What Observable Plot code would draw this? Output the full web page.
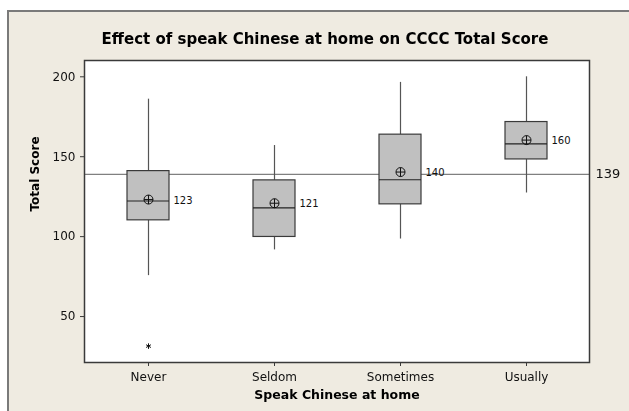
<!DOCTYPE html>
<html>
<head>
<meta charset="utf-8">
<script src="https://cdn.jsdelivr.net/npm/d3@7"></script>
<script src="https://cdn.jsdelivr.net/npm/@observablehq/plot@0.6"></script>
<style>
  html, body { margin: 0; padding: 0; background: white; overflow: hidden; width: 629px; height: 411px; }
  #bg { position: fixed; left: 7px; top: 10px; right: 0; bottom: 0; box-sizing: border-box;
        border-left: 2px solid #7a7a7a; border-top: 2px solid #7a7a7a; background: #efebe1; }
  #chart { position: absolute; left: 0; top: 0; }
</style>
</head>
<body>
<div id="bg"></div>
<div id="chart"></div>
<script>
const categories = ["Never", "Seldom", "Sometimes", "Usually"];
const whiskerLow = [75.6, 91.7, 98.5, 127.3];
const q1 = [110.2, 99.8, 120.2, 148.3];
const median = [122.3, 118.0, 135.6, 158.0];
const q3 = [141.0, 135.2, 163.8, 171.7];
const whiskerHigh = [186.0, 157.0, 196.5, 200.0];
const means = [123.2, 120.9, 140.4, 160.4];
const outlierCategory = ["Never"];
const outlierValue = [31.5];
const grandMean = 139;
const yTicks = [50, 100, 150, 200];

const boxes = categories.map((c, i) => ({
  cat: c, lo: whiskerLow[i], q1: q1[i], med: median[i], q3: q3[i], hi: whiskerHigh[i], mean: means[i]
}));
const outliers = outlierCategory.map((c, i) => ({cat: c, v: outlierValue[i]}));

const circlePlus = {
  draw(context, size) {
    const r = Math.sqrt(size / Math.PI);
    context.moveTo(r, 0);
    context.arc(0, 0, r, 0, 2 * Math.PI);
    context.moveTo(-r, 0); context.lineTo(r, 0);
    context.moveTo(0, -r); context.lineTo(0, r);
  }
};

const font = "DejaVu Sans, Verdana, sans-serif";
const chart = Plot.plot({
  width: 629,
  height: 411,
  marginLeft: 84,
  marginTop: 60,
  marginRight: 40,
  marginBottom: 49,
  style: {background: "transparent", fontFamily: font, fontSize: "12px", color: "#111"},
  x: {type: "band", domain: categories, padding: 0, label: null},
  y: {domain: [21.25, 210.2], label: null},
  marks: [
    Plot.frame({fill: "white", stroke: "none"}),
    Plot.ruleY([grandMean], {stroke: "#808080", strokeWidth: 1.2}),
    Plot.ruleX(boxes, {x: "cat", y1: "lo", y2: "q1", stroke: "#555", strokeWidth: 1.2}),
    Plot.ruleX(boxes, {x: "cat", y1: "q3", y2: "hi", stroke: "#555", strokeWidth: 1.2}),
    Plot.barY(boxes, {x: "cat", y1: "q1", y2: "q3", fill: "#c0c0c0", stroke: "#3a3a3a", strokeWidth: 1.2, insetLeft: 42, insetRight: 42}),
    Plot.tickY(boxes, {x: "cat", y: "med", stroke: "#222", strokeWidth: 1.2, insetLeft: 42, insetRight: 42}),
    Plot.dot(boxes, {x: "cat", y: "mean", symbol: circlePlus, r: 4.5, stroke: "#111", fill: "none", strokeWidth: 1}),
    Plot.text(boxes, {x: "cat", y: "mean", text: d => d3.format(".0f")(d.mean), dx: 25, dy: 1, textAnchor: "start", fontSize: 10, fill: "#111"}),
    Plot.dot(outliers, {x: "cat", y: "v", symbol: "asterisk", r: 2.6, stroke: "#111", strokeWidth: 1}),
    Plot.frame({stroke: "#3a3a3a", strokeWidth: 1.5}),
    Plot.axisY(yTicks, {tickSize: 4, tickPadding: 5, fontSize: 12, stroke: "#3a3a3a", label: null}),
    Plot.axisX({tickSize: 4, tickPadding: 6, fontSize: 12, stroke: "#3a3a3a", label: null}),
    Plot.text([grandMean], {y: d => d, frameAnchor: "right", dx: 6, textAnchor: "start", text: d => String(d), fontSize: 13, fill: "#111"}),
    Plot.text(["Effect of speak Chinese at home on CCCC Total Score"], {frameAnchor: "top", dx: -12, dy: -17, lineAnchor: "bottom", fontSize: 15, fontWeight: "bold", fill: "#000"}),
    Plot.text(["Total Score"], {frameAnchor: "left", dx: -49, rotate: -90, fontSize: 12, fontWeight: "bold", fill: "#000"}),
    Plot.text(["Speak Chinese at home"], {frameAnchor: "bottom", dy: 36, lineAnchor: "bottom", fontSize: 12.5, fontWeight: "bold", fill: "#000"})
  ]
});
document.getElementById("chart").appendChild(chart);
</script>
</body>
</html>
